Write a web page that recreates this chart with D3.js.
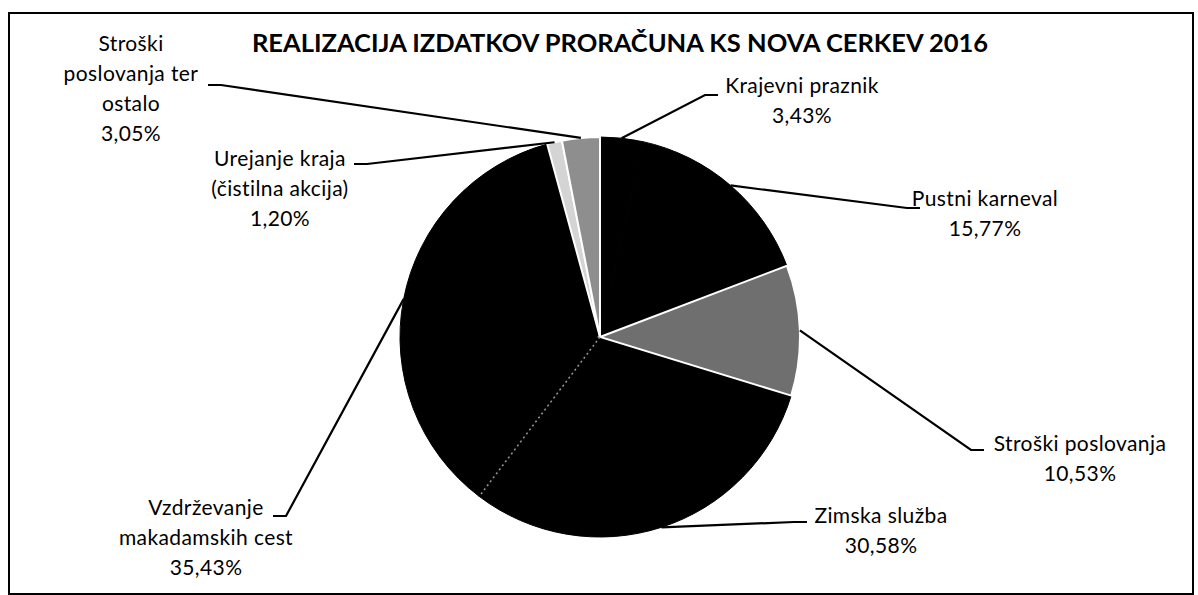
<!DOCTYPE html>
<html>
<head>
<meta charset="utf-8">
<script src="https://cdn.jsdelivr.net/npm/d3@7"></script>
<style>
  body { margin: 0; background: #fff; }
  text { font-family: Lato, "DejaVu Sans", sans-serif; fill: #000; }
  .title { font-weight: bold; font-size: 25.5px; }
  .lbl { font-size: 21px; letter-spacing: 0.4px; }
</style>
</head>
<body>
<div id="chart"></div>
<script>
// data
var categories = ["Krajevni praznik", "Pustni karneval", "Stroški poslovanja", "Zimska služba",
                  "Vzdrževanje makadamskih cest", "Urejanje kraja (čistilna akcija)", "Stroški poslovanja ter ostalo"];
var shares = [3.43, 15.77, 10.53, 30.58, 35.43, 1.20, 3.05];
// how each category name is broken over lines in the labels
var nameLines = [
    ["Krajevni praznik"],
    ["Pustni karneval"],
    ["Stroški poslovanja"],
    ["Zimska služba"],
    ["Vzdrževanje", "makadamskih cest"],
    ["Urejanje kraja", "(čistilna akcija)"],
    ["Stroški", "poslovanja ter", "ostalo"]
];
var sliceFill = ["#000", "#000", "#6f6f6f", "#000", "#000", "#d4d4d4", "#8e8e8e"];

// layout of the label boxes (centre x, first baseline) and the short stub of each leader
// dir: 1 = label is right of the stub, -1 = label is left of it
var labelBox = [
    {x: 802, y: 93},
    {x: 985, y: 206},
    {x: 1080, y: 451},
    {x: 881, y: 523},
    {x: 206, y: 515},
    {x: 280, y: 166},
    {x: 131, y: 51}
];
var stub = [
    {x: 718, y: 95, dir: 1},
    {x: 920, y: 208, dir: 1},
    {x: 984, y: 450, dir: 1},
    {x: 807, y: 522, dir: 1},
    {x: 273, y: 516, dir: -1},
    {x: 354, y: 164, dir: -1},
    {x: 208, y: 85, dir: -1}
];

var W = 1198, H = 595;
var cx = 600, cy = 337, radius = 200;
var lineH = 30;

var svg = d3.select("#chart")
    .append("svg")
        .attr("width", W)
        .attr("height", H);

// frame
svg.append("rect")
    .attr("x", 9)
    .attr("y", 13)
    .attr("width", 1184)
    .attr("height", 581)
    .attr("fill", "none")
    .attr("stroke", "#000")
    .attr("stroke-width", 2);

svg.append("text")
    .attr("class", "title")
    .attr("x", 620)
    .attr("y", 52)
    .style("text-anchor", "middle")
    .text("REALIZACIJA IZDATKOV PRORAČUNA KS NOVA CERKEV 2016");

var pie = d3.pie().sort(null).value(function(d) { return d; });
var arcs = pie(shares);

var arc = d3.arc().innerRadius(0).outerRadius(radius);
var rim = d3.arc().innerRadius(radius).outerRadius(radius);

var g = svg.append("g")
    .attr("transform", "translate(" + cx + "," + cy + ")");

// black slices first, lighter ones on top so their white edges show
var isDark = function(i) { return sliceFill[i] === "#000"; };
var order = d3.range(arcs.length).sort(function(a, b) {
    return (isDark(a) ? 0 : 1) - (isDark(b) ? 0 : 1);
});
g.selectAll("path.slice")
    .data(order)
    .enter()
    .append("path")
        .attr("class", "slice")
        .attr("d", function(i) { return arc(arcs[i]); })
        .attr("fill", function(i) { return sliceFill[i]; })
        .attr("stroke", function(i) { return isDark(i) ? "#000" : "#fff"; })
        .attr("stroke-width", function(i) { return isDark(i) ? 1 : 2; });

// faint speckled seam between Zimska služba and Vzdrževanje (as in the scan)
var seamAngle = arcs[4].startAngle;
g.append("line")
    .attr("x1", 0)
    .attr("y1", 0)
    .attr("x2", radius * Math.sin(seamAngle))
    .attr("y2", -radius * Math.cos(seamAngle))
    .attr("stroke", "#999")
    .attr("stroke-width", 1.5)
    .attr("stroke-dasharray", "2,3");

// leader lines + labels
var fmt = d3.format(".2f");
arcs.forEach(function(d, i) {
    var p = rim.centroid(d);
    var s = stub[i];
    var pts = [[cx + p[0], cy + p[1]], [s.x - 13 * s.dir, s.y], [s.x, s.y]];
    svg.append("path")
        .attr("d", d3.line()(pts))
        .attr("fill", "none")
        .attr("stroke", "#000")
        .attr("stroke-width", 2.2);

    var lines = nameLines[i].concat([fmt(shares[i]).replace(".", ",") + "%"]);
    var t = svg.append("text")
        .attr("class", "lbl")
        .style("text-anchor", "middle");
    lines.forEach(function(l, k) {
        t.append("tspan")
            .attr("x", labelBox[i].x)
            .attr("y", labelBox[i].y + k * lineH)
            .text(l);
    });
});
</script>
</body>
</html>
